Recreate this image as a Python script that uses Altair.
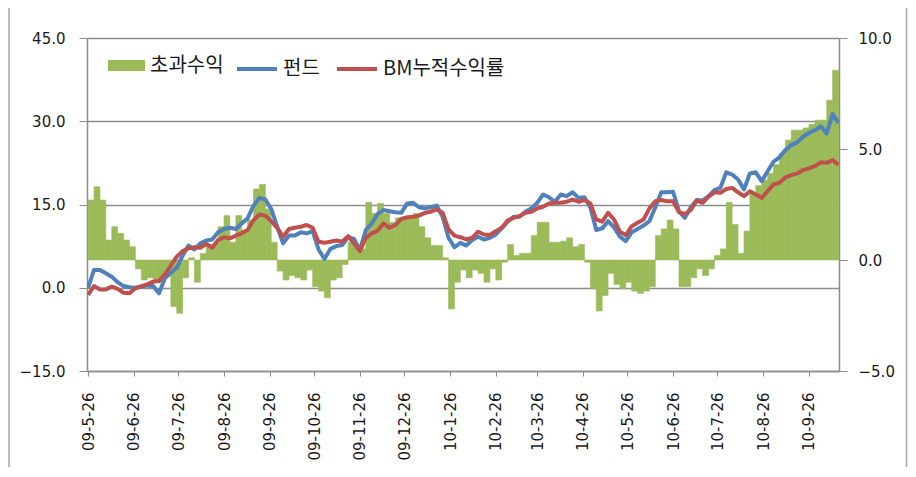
import altair as alt
import pandas as pd

# ---- data (one value every 4 days from 2009-05-26) ----
FUND = [
    0.0, 3.2, 3.2, 2.6, 2.0, 1.0, 0.3, 0.1, 0.0, 0.2,
    0.4, 0.3, -1.0, 1.7, 2.7, 3.6, 5.8, 7.6, 6.9, 8.0,
    8.5, 8.7, 10.0, 10.6, 10.8, 10.6, 11.6, 12.5, 14.8, 16.2,
    15.9, 14.2, 11.0, 8.0, 9.4, 9.4, 10.0, 9.8, 10.2, 6.9,
    5.2, 7.0, 7.5, 7.7, 9.1, 8.8, 6.8, 10.4, 11.6, 13.3,
    14.0, 13.8, 13.6, 13.5, 15.2, 15.3, 14.5, 14.3, 14.5, 14.8,
    12.8, 9.0, 7.3, 8.1, 7.6, 8.6, 9.2, 8.7, 9.0, 9.6,
    10.7, 11.9, 12.8, 12.8, 13.7, 14.3, 15.3, 16.8, 16.3, 15.5,
    16.8, 16.5, 17.2, 16.2, 16.3, 14.5, 10.4, 10.7, 12.0, 10.9,
    9.2, 8.4, 10.0, 10.6, 11.2, 12.0, 14.5, 17.2, 17.2, 17.3,
    13.8, 12.6, 14.5, 15.8, 15.7, 16.5, 17.6, 18.0, 20.8, 20.4,
    19.5, 17.7, 20.6, 20.8, 19.2, 21.0, 22.7, 23.5, 24.8, 25.7,
    26.2, 27.2, 27.9, 28.4, 29.1, 27.8, 31.3, 29.7,
]
BM = [
    -1.3, 0.3, -0.3, -0.3, 0.2, -0.2, -0.9, -1.0, -0.1, 0.3,
    0.6, 1.1, 1.2, 2.4, 4.0, 5.6, 6.6, 7.1, 7.3, 7.2,
    7.9, 7.2, 8.6, 9.1, 8.9, 9.4, 9.8, 10.4, 12.2, 13.2,
    13.0, 12.0, 10.8, 9.2, 10.6, 10.8, 11.0, 11.3, 10.8, 8.3,
    8.1, 8.3, 8.5, 8.3, 9.3, 8.0, 6.6, 9.0, 9.8, 10.3,
    11.6, 10.8, 11.3, 12.4, 12.7, 12.8, 13.0, 13.5, 13.7, 14.1,
    13.5, 10.5, 9.4, 9.1, 8.7, 9.0, 10.1, 9.6, 9.5, 10.2,
    10.8, 12.1, 12.6, 12.9, 13.5, 13.7, 14.3, 14.6, 15.2, 15.3,
    15.3, 15.5, 15.9, 15.5, 15.8, 15.2, 12.3, 11.9, 13.5, 12.3,
    10.1, 9.5, 11.1, 11.7, 12.3, 14.3, 15.6, 15.8, 15.6, 15.6,
    13.6, 13.3, 14.0, 15.7, 15.3, 16.4, 17.2, 17.1, 17.8, 18.0,
    17.2, 16.5, 17.4, 16.8, 16.2, 17.4, 18.6, 18.9, 19.9, 20.3,
    20.6, 21.2, 21.5, 21.9, 22.6, 22.5, 23.0, 22.2,
]
EXCESS = [
    2.7, 3.3, 2.7, 0.9, 1.5, 1.2, 0.9, 0.6, -0.4, -0.9,
    -0.8, -1.0, -1.0, -0.5, -2.1, -2.4, -0.8, 0.1, -1.0, 0.3,
    0.7, 0.7, 1.5, 2.0, 0.8, 2.0, 1.35, 1.8, 3.2, 3.4,
    2.3, 0.8, -0.5, -0.9, -0.7, -0.8, -0.9, -0.45, -1.2, -1.4,
    -1.7, -0.9, -0.8, -0.2, 0.8, 0.6, 0.5, 2.6, 2.1, 2.55,
    2.1, 1.7, 1.9, 1.9, 1.9, 2.1, 1.5, 1.0, 0.65, 0.65,
    0.1, -2.2, -1.0, -0.45, -0.8, -0.45, -0.6, -1.0, -0.4, -0.9,
    -0.1, 0.7, 0.2, 0.3, 0.3, 1.1, 1.7, 1.7, 0.8, 0.8,
    0.85, 1.0, 0.6, 0.7, -0.1, -1.3, -2.3, -1.6, -0.6, -1.1,
    -1.3, -1.0, -1.4, -1.5, -1.4, -1.2, 1.1, 1.4, 1.8, 1.4,
    -1.2, -1.2, -0.8, -0.4, -0.7, -0.4, 0.2, 0.5, 2.6, 1.6,
    0.3, 1.3, 3.0, 3.35, 3.6, 3.9, 4.3, 4.8, 5.4, 5.85,
    5.85, 5.95, 6.1, 6.3, 6.3, 7.2, 8.55, 8.5,
]
START = "2009-05-26"
STEP_DAYS = 4
TICK_DATES = [
    "2009-05-26", "2009-06-26", "2009-07-26", "2009-08-26", "2009-09-26",
    "2009-10-26", "2009-11-26", "2009-12-26", "2010-01-26", "2010-02-26",
    "2010-03-26", "2010-04-26", "2010-05-26", "2010-06-26", "2010-07-26",
    "2010-08-26", "2010-09-26",
]
SERIES = ["초과수익", "펀드", "BM누적수익률"]
COLORS = ["#9BBB59", "#4F81BD", "#C0504D"]
LEFT_TICKS = [-15, 0, 15, 30, 45]
RIGHT_TICKS = [-5, 0, 5, 10]

# ---- tables ----
fmt = "%Y-%m-%dT%H:%M:%S"
dates = pd.date_range(START, periods=len(FUND), freq=f"{STEP_DAYS}D")
ends = dates + pd.Timedelta(days=STEP_DAYS)
df = pd.DataFrame({
    "date": dates.strftime(fmt),
    "end": ends.strftime(fmt),
    "fund": FUND,
    "bm": BM,
    "excess": EXCESS,
    "kind": SERIES[0],
})
long = pd.concat([
    pd.DataFrame({"date": df["date"], "value": df["fund"], "series": SERIES[1]}),
    pd.DataFrame({"date": df["date"], "value": df["bm"], "series": SERIES[2]}),
])


def dt(s, hours=0):
    y, m, d = (int(p) for p in s.split("-"))
    return alt.DateTime(year=y, month=m, date=d, hours=hours)


LABEL_FONT = "DejaVu Sans"
KR_FONT = "Noto Sans CJK KR"
TXT = "#1a1a1a"
GREY = "#8c8c8c"
LEG_FS = 20

x_scale = alt.Scale(domain=[dt("2009-05-25", 6), dt("2010-10-16", 8)])
x_axis = alt.Axis(
    values=[dt(s) for s in TICK_DATES], format="%y-%-m-%d", labelAngle=270,
    tickSize=5, labelPadding=16, grid=False, title=None,
    labelFont=LABEL_FONT, labelFontSize=15, labelColor=TXT,
    domainColor=GREY, tickColor=GREY, domainWidth=1.5, labelOverlap=False,
)
x_enc = alt.X("date:T", scale=x_scale, axis=x_axis)

bars = alt.Chart(df).mark_bar(clip=True, strokeWidth=0.6).encode(
    x=x_enc,
    x2="end:T",
    y=alt.Y("excess:Q",
            scale=alt.Scale(domain=[RIGHT_TICKS[0], RIGHT_TICKS[-1]], nice=False, zero=False),
            axis=alt.Axis(orient="right", values=RIGHT_TICKS, format=".1f", grid=False,
                          tickSize=8, labelPadding=11, title=None,
                          labelFont=LABEL_FONT, labelFontSize=15, labelColor=TXT,
                          domainColor=GREY, tickColor=GREY, domainWidth=1.5)),
    y2=alt.datum(0),
    fill=alt.Fill("kind:N", scale=alt.Scale(domain=SERIES[:1], range=COLORS[:1]),
                  legend=alt.Legend(title=None, orient="none", legendX=21, legendY=9,
                                    direction="horizontal",
                                    symbolType="M-1,-0.3H1V0.3H-1Z", symbolSize=1369,
                                    symbolStrokeWidth=0, labelFont=KR_FONT,
                                    labelFontSize=LEG_FS, labelOffset=5, labelColor=TXT)),
    stroke=alt.value(COLORS[0]),
)

stroke_enc = alt.Stroke(
    "series:N", scale=alt.Scale(domain=SERIES[1:], range=COLORS[1:]),
    legend=alt.Legend(title=None, orient="none", legendX=148, legendY=9,
                      direction="horizontal", symbolType="stroke", symbolSize=1600,
                      symbolStrokeWidth=4, columnPadding=9, labelOffset=4,
                      labelFont=KR_FONT, labelFontSize=LEG_FS, labelColor=TXT),
)
y_left = alt.Y(
    "value:Q",
    scale=alt.Scale(domain=[LEFT_TICKS[0], LEFT_TICKS[-1]], nice=False, zero=False),
    axis=alt.Axis(orient="left", values=LEFT_TICKS, format=".1f", grid=True,
                  gridColor=GREY, gridWidth=1.3, tickSize=8, labelPadding=14, title=None,
                  labelFont=LABEL_FONT, labelFontSize=15, labelColor=TXT,
                  domainColor=GREY, tickColor=GREY, domainWidth=1.5),
)

line_fund = alt.Chart(long).transform_filter(
    alt.datum.series == SERIES[1]
).mark_line(clip=True, strokeWidth=4, strokeJoin="round").encode(
    x=x_enc, y=y_left, stroke=stroke_enc)
line_bm = alt.Chart(long).transform_filter(
    alt.datum.series == SERIES[2]
).mark_line(clip=True, strokeWidth=4, strokeJoin="round").encode(
    x=x_enc, y=y_left, stroke=stroke_enc)

# outer frame of the original chart box (left and right edges)
frame = alt.Chart(alt.Data(values=[{"a": 1}])).mark_rule(
    color="#a6a6a6", strokeWidth=1.5
).encode(
    x=alt.value(-78), y=alt.value(-30), y2=alt.value(429)
)
frame_r = alt.Chart(alt.Data(values=[{"a": 1}])).mark_rule(
    color="#a6a6a6", strokeWidth=1.5
).encode(
    x=alt.value(819.5), y=alt.value(-30), y2=alt.value(429)
)

lines = alt.layer(line_fund, line_bm, frame, frame_r)

chart = alt.layer(bars, lines).resolve_scale(y="independent").properties(
    width=752, height=333,
    autosize=alt.AutoSizeParams(type="none"),
    padding={"left": 79, "top": 30, "right": 69, "bottom": 96},
).configure_view(stroke=None)

chart.save("out.html", embed_options={"renderer": "svg", "actions": False})
